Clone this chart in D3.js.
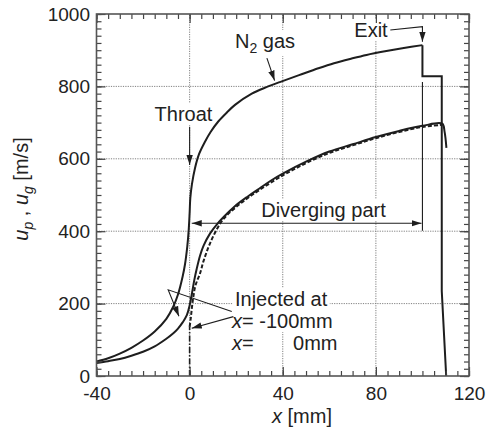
<!DOCTYPE html>
<html>
<head>
<meta charset="utf-8">
<script src="https://cdn.jsdelivr.net/npm/d3@7"></script>
<style>
  body { margin: 0; background: #fff; }
  text { font-family: "Liberation Sans", Arial, sans-serif; fill: #222; }
</style>
</head>
<body>
<svg id="chart" width="492" height="430"></svg>
<script>
// tick values
const xTicks = [-40, 0, 40, 80, 120];
const yTicks = [0, 200, 400, 600, 800, 1000];
const xGrid = [0, 40, 80];
const yGrid = [200, 400, 600, 800];

// N2 gas velocity, smooth part up to the exit (x mm, u m/s)
const gasX = [-40, -35, -30, -25, -20, -15, -10, -7, -5, -3, -2, -1, -0.4, 0, 0.3, 1, 2.3, 4, 6.6, 9, 12.3, 16, 19.5, 26.7, 33, 39.6, 47, 55.3, 62, 69.6, 76, 83.9, 92, 100];
const gasU = [40, 49, 62, 78, 98, 123, 158, 192, 225, 275, 308, 358, 403, 450, 492, 530, 574, 612, 647, 674, 703, 728, 749, 780, 798, 814, 831, 850, 864, 877, 887, 897, 906, 914];
// gas after the exit (steps)
const gasStepX = [100, 100, 108.3, 108.3, 110.2];
const gasStepU = [914, 828, 828, 235, 0];

// particle injected at x = -100 mm
const p100X = [-40, -35, -30, -25, -20, -15, -10, -7, -5, -3, -1.2, 0, 1, 2, 3, 4.5, 6, 8.8, 12, 16, 20, 25, 30, 35, 40, 50, 60, 70, 80, 90, 100, 108.5, 109.5, 110.3];
const p100U = [36, 41, 47, 56, 67, 82, 103, 118, 131, 148, 168, 195, 228, 265, 295, 333, 360, 394, 421, 448, 472, 496, 518, 540, 559, 592, 620, 640, 660, 677, 691, 697, 675, 630];

// particle injected at x = 0 mm
const p0StartX = [0, 0];
const p0StartU = [0, 136];
const p0X = [0, 0.5, 1, 1.6, 2.5, 4.5, 6, 8.8, 13, 16, 20, 25, 30, 40, 50, 60, 70, 80, 90, 100, 108.5];
const p0U = [136, 160, 190, 219, 250, 284, 318, 367, 420, 444, 467, 492, 514, 554, 588, 616, 637, 657, 674, 688, 694];

const zip = (xs, us) => xs.map((v, i) => [v, us[i]]);

const svg = d3.select("#chart");
const x = d3.scaleLinear().domain([-40, 120]).range([96.5, 469]);
const y = d3.scaleLinear().domain([0, 1000]).range([376, 14]);

const ink = "#1e1e1e";

// arrow head
const defs = svg.append("defs");
defs.append("marker")
  .attr("id", "head")
  .attr("markerUnits", "userSpaceOnUse")
  .attr("viewBox", "0 -4 10 8")
  .attr("refX", 10).attr("refY", 0)
  .attr("markerWidth", 10).attr("markerHeight", 8)
  .attr("orient", "auto-start-reverse")
  .append("path").attr("d", "M0,-3.2L10,0L0,3.2Z").attr("fill", ink);

// grid (fine dotted)
const grid = svg.append("g").attr("id", "grid");
xGrid.forEach(v => {
  grid.append("path")
    .attr("d", `M${x(v)},${y(0)}V${y(1000)}`)
    .attr("fill", "none").attr("stroke", "#808080").attr("stroke-width", 1)
    .attr("stroke-dasharray", "1.2,1.2");
});
yGrid.forEach(v => {
  grid.append("path")
    .attr("d", `M${x(-40)},${y(v)}H${x(120)}`)
    .attr("fill", "none").attr("stroke", "#808080").attr("stroke-width", 1)
    .attr("stroke-dasharray", "1.2,1.2");
});

const bg = svg.append("g");
const curves = svg.append("g");
const notes = svg.append("g");
const labels = svg.append("g");

// axes with inward ticks on all four sides
function axisStyle(g) {
  g.select(".domain").remove();
  g.selectAll("line").attr("stroke", "#444").attr("stroke-width", 1.2);
  g.selectAll("text").attr("font-size", 19).attr("font-family", "Liberation Sans, Arial, sans-serif").attr("fill", "#222");
}
const xMinor = d3.range(-40, 121, 5);
const yMinor = d3.range(0, 1001, 20);
const plain = d => String(d);

svg.append("g").attr("transform", `translate(0,${y(0)})`)
  .call(d3.axisBottom(x).tickValues(xMinor).tickSize(-5).tickFormat("")).call(axisStyle);
svg.append("g").attr("transform", `translate(0,${y(0)})`)
  .call(d3.axisBottom(x).tickValues(xTicks).tickSize(-9).tickPadding(11).tickFormat(plain)).call(axisStyle);
svg.append("g").attr("transform", `translate(0,${y(1000)})`)
  .call(d3.axisTop(x).tickValues(xMinor).tickSize(-5).tickFormat("")).call(axisStyle);
svg.append("g").attr("transform", `translate(0,${y(1000)})`)
  .call(d3.axisTop(x).tickValues(xTicks).tickSize(-9).tickFormat("")).call(axisStyle);
svg.append("g").attr("transform", `translate(${x(-40)},0)`)
  .call(d3.axisLeft(y).tickValues(yMinor).tickSize(-5).tickFormat("")).call(axisStyle);
svg.append("g").attr("transform", `translate(${x(-40)},0)`)
  .call(d3.axisLeft(y).tickValues(yTicks).tickSize(-9).tickPadding(6.5).tickFormat(plain)).call(axisStyle);
svg.append("g").attr("transform", `translate(${x(120)},0)`)
  .call(d3.axisRight(y).tickValues(yMinor).tickSize(-5).tickFormat("")).call(axisStyle);
svg.append("g").attr("transform", `translate(${x(120)},0)`)
  .call(d3.axisRight(y).tickValues(yTicks).tickSize(-9).tickFormat("")).call(axisStyle);

svg.append("rect")
  .attr("x", x(-40)).attr("y", y(1000))
  .attr("width", x(120) - x(-40)).attr("height", y(0) - y(1000))
  .attr("fill", "none").attr("stroke", "#555").attr("stroke-width", 1.6);

// curves
const smooth = d3.line().x(d => x(d[0])).y(d => y(d[1])).curve(d3.curveCatmullRom.alpha(0.5));
const straight = d3.line().x(d => x(d[0])).y(d => y(d[1]));

curves.append("path").attr("d", smooth(zip(gasX, gasU)))
  .attr("fill", "none").attr("stroke", ink).attr("stroke-width", 2);
curves.append("path").attr("d", straight(zip(gasStepX, gasStepU)))
  .attr("fill", "none").attr("stroke", ink).attr("stroke-width", 2).attr("stroke-linejoin", "miter");
curves.append("path").attr("d", smooth(zip(p100X, p100U)))
  .attr("fill", "none").attr("stroke", ink).attr("stroke-width", 2);
curves.append("path").attr("d", straight(zip(p0StartX, p0StartU)))
  .attr("fill", "none").attr("stroke", ink).attr("stroke-width", 1.6).attr("stroke-dasharray", "6,2,1.5,2");
curves.append("path").attr("d", smooth(zip(p0X, p0U)))
  .attr("fill", "none").attr("stroke", ink).attr("stroke-width", 2).attr("stroke-dasharray", "4,2");

// annotation lines (data units)
function note(pts, head, both) {
  const p = notes.append("path").attr("d", straight(pts))
    .attr("fill", "none").attr("stroke", ink).attr("stroke-width", 1.1);
  if (head) p.attr("marker-end", "url(#head)");
  if (both) p.attr("marker-start", "url(#head)");
}
note([[0, 688], [0, 583]], true);                       // throat
note([[33.2, 878], [36.5, 816]], true);                 // N2 gas
note([[86.2, 956], [100, 965], [100, 923]], true);      // exit
note([[0.9, 422], [99.6, 422]], true, true);            // diverging part
note([[100, 401], [100, 812]], false);                  // exit marker
note([[18.1, 178], [-9.2, 238], [-4.6, 165]], true);    // injected at -100 mm
note([[18.8, 164], [0.9, 132]], true);                  // injected at 0 mm

// text labels with white backing
function label(px, py, parts, anchor) {
  const t = labels.append("text").attr("x", px).attr("y", py)
    .attr("font-size", 20).attr("text-anchor", anchor || "start");
  parts.forEach(p => {
    const s = t.append("tspan").text(p.t);
    if (p.i) s.attr("font-style", "italic");
    if (p.s) s.attr("font-size", p.s);
    if (p.dy) s.attr("dy", p.dy);
  });
  const b = t.node().getBBox();
  bg.append("rect").attr("x", b.x - 2).attr("y", b.y).attr("width", b.width + 4).attr("height", b.height)
    .attr("fill", "#fff");
  return t;
}

label(183.5, 121, [{ t: "Throat" }], "middle");
label(235, 48, [{ t: "N" }, { t: "2", s: 14, dy: 5 }, { t: " gas", dy: -5 }]);
label(371, 37, [{ t: "Exit" }], "middle");
label(323.5, 217, [{ t: "Diverging part" }], "middle");
label(235, 306, [{ t: "Injected at" }]);
label(232, 328, [{ t: "x", i: true }, { t: "= -100mm" }]);
label(232, 350, [{ t: "x", i: true }, { t: "=" }]);
label(337.5, 350, [{ t: "0mm" }], "end");

// axis titles
const xl = labels.append("text").attr("x", 272).attr("y", 423).attr("font-size", 20);
xl.append("tspan").attr("font-style", "italic").text("x");
xl.append("tspan").text(" [mm]");

const yl = labels.append("text").attr("transform", "translate(28,189) rotate(-90)")
  .attr("text-anchor", "middle").attr("font-size", 20);
yl.append("tspan").attr("font-style", "italic").text("u");
yl.append("tspan").attr("font-style", "italic").attr("font-size", 14).attr("dy", 5).text("p");
yl.append("tspan").attr("dy", -5).text(" , ");
yl.append("tspan").attr("font-style", "italic").text("u");
yl.append("tspan").attr("font-style", "italic").attr("font-size", 14).attr("dy", 5).text("g");
yl.append("tspan").attr("dy", -5).text(" [m/s]");
</script>
</body>
</html>
